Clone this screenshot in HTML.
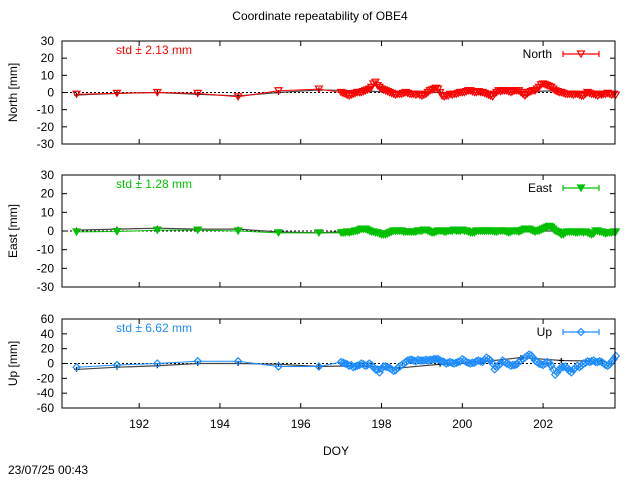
<!DOCTYPE html>
<html><head><meta charset="utf-8"><style>
body{margin:0;background:#fff;}
svg{font-family:"Liberation Sans",sans-serif;}
</style></head><body>
<svg id="chart" width="640" height="480" viewBox="0 0 640 480">
<text x="320" y="20" text-anchor="middle" font-size="12">Coordinate repeatability of OBE4</text>
<text x="336" y="455" text-anchor="middle" font-size="12">DOY</text>
<text x="8" y="474" font-size="12">23/07/25 00:43</text>
</svg>
<script>
const dailyDoy=[190.45,191.45,192.45,193.45,194.45,195.45,196.45];
const refDoy=[190.45,191.45,192.45,193.45,194.45,195.45,196.45,197.45,198.45,199.45,200.45,201.45,202.45,203.45];
const denseDoy=[197.0,197.05,197.1,197.15,197.2,197.25,197.3,197.35,197.4,197.45,197.5,197.55,197.6,197.65,197.7,197.75,197.8,197.85,197.9,197.95,198.0,198.05,198.1,198.15,198.2,198.25,198.3,198.35,198.4,198.45,198.5,198.55,198.6,198.65,198.7,198.75,198.8,198.85,198.9,198.95,199.0,199.05,199.1,199.15,199.2,199.25,199.3,199.35,199.4,199.45,199.5,199.55,199.6,199.65,199.7,199.75,199.8,199.85,199.9,199.95,200.0,200.05,200.1,200.15,200.2,200.25,200.3,200.35,200.4,200.45,200.5,200.55,200.6,200.65,200.7,200.75,200.8,200.85,200.9,200.95,201.0,201.05,201.1,201.15,201.2,201.25,201.3,201.35,201.4,201.45,201.5,201.55,201.6,201.65,201.7,201.75,201.8,201.85,201.9,201.95,202.0,202.05,202.1,202.15,202.2,202.25,202.3,202.35,202.4,202.45,202.5,202.55,202.6,202.65,202.7,202.75,202.8,202.85,202.9,202.95,203.0,203.05,203.1,203.15,203.2,203.25,203.3,203.35,203.4,203.45,203.5,203.55,203.6,203.65,203.7,203.75,203.8];
const northDense=[0,-0.5,-1,-1.5,-2,-1.5,-1,-0.5,0,0,0,0.5,1,1.5,2,3,5,6,4,3,2,1.5,1,0.5,0,-0.5,-1,-1.5,-1,-1,-1,-0.5,0,-0.5,-1,-1,-1,-1.5,-1,-1.5,-2,-1.5,-1,0,1,1.5,2,2.5,2,0,-2,-2.5,-2,-2,-1,-1.5,-1,-1,-0.5,0,0,0,0.5,1,1,0.5,0,0,0.5,0,0,-0.5,-1,-1.5,-2,-2.5,-1,0,1,0.5,1,1,1,0.5,0,0.5,1,1,1,0,-1,-2,-1,0,0.5,1,1,2,3,4.5,5,4.5,4,3.5,3,2,1,0.5,0,0,-0.5,-1,-1,-1,-1,-1.5,-1,-1,-1.5,-2,-2,-1,0,-0.5,-1,-1,-1.5,-2,-1,-1.5,-1,-1,-0.5,-1,-1.5,-1,-1.5];
const eastDense=[-1,-1,-1,-0.5,-1,-0.5,-0.5,0,0,0.5,1,1,1,0.5,0,-0.5,-0.5,-1,-1,-1.5,-2,-2,-2,-1.5,-1,-0.5,0,0,0,0,0,-0.5,-0.5,-0.5,-0.5,-0.5,-0.5,-0.5,0,0,0,0.5,0.5,0,-0.5,-1,-1,-0.5,0,0,0,-0.5,-0.5,0,0,0,0.5,0,0,0,0.5,0,0,-0.5,-1,-1,-1,0,0,0,0,0,0,0,0,0,-0.5,-0.5,0,0,0,0,-0.5,-1,-0.5,0,0,0,-0.5,0,0.5,1,1,1,0.5,0,-0.5,0,0,0.5,1,1.5,2,2.5,2,1,0,-0.5,-1,-2,-2,-1,-0.5,-0.5,-0.5,-0.5,-1,-1,-0.5,-0.5,-1,-0.5,-1,-1.5,-2,-1.5,0,0,-0.5,-0.5,-1,-1.5,-1,-1,-1,-0.5,-0.5];
const upDense=[2,1,0,-1,-3,-2,-5,-4,-3,-2,0,-1,-3,-2,0,-2,-5,-8,-8,-12,-7,-4,-4,-5,-6,-8,-10,-9,-6,-4,-2,0,2,4,5,5,4,3,5,4,4,4,5,4,5,5,6,6,6,4,3,2,0,1,2,1,0,1,2,3,6,4,2,1,0,1,1,3,4,3,2,5,8,6,4,0,-8,-5,-2,0,4,2,0,-1,-3,-2,-2,-1,2,4,6,8,10,12,11,8,4,2,0,-1,-2,0,2,1,-3,-8,-15,-12,-8,-5,-5,-4,-6,-10,-12,-8,-6,-3,-5,-3,0,1,3,2,3,4,2,2,3,2,0,-2,-3,-1,3,6,10,12,8];
const northDaily=[-1,-0.5,0,-0.5,-2.5,1,2];
const northRef=[-1.5,-0.5,0,-1,-2,0,1.5,1,0,0,0,0.5,1,-1];
const eastDaily=[-0.5,-0.3,0.5,0.5,0,-1,-1];
const eastRef=[0.5,1,1.5,1,1,-0.5,-1,0,0,0,0,0,0,0];
const upDaily=[-5,-2,0,3,3,-4,-4];
const upRef=[-8,-5,-3,0,0,-1,-4,-3,-6,-1,2,8,4,3];
const xTicks=[192,194,196,198,200,202];
const NS="http://www.w3.org/2000/svg";
const svg=document.getElementById('chart');
const X0=62,X1=615,D0=190.09,D1=203.78;
const xs=d=>X0+(d-D0)/(D1-D0)*(X1-X0);
function mk(tag,attrs,parent){const e=document.createElementNS(NS,tag);for(const k in attrs)e.setAttribute(k,attrs[k]);(parent||svg).appendChild(e);return e;}
const panels=[
 {key:'north',label:'North [mm]',top:41,bot:144,min:-30,max:30,ticks:[30,20,10,0,-10,-20,-30],color:'#ff0000',marker:'tri-open',std:'std ± 2.13 mm',daily:northDaily,ref:northRef,dense:northDense,leg:'North'},
 {key:'east',label:'East [mm]',top:175,bot:287,min:-30,max:30,ticks:[30,20,10,0,-10,-20,-30],color:'#00c000',marker:'tri-fill',std:'std ± 1.28 mm',daily:eastDaily,ref:eastRef,dense:eastDense,leg:'East'},
 {key:'up',label:'Up [mm]',top:319,bot:408,min:-60,max:60,ticks:[60,40,20,0,-20,-40,-60],color:'#1e8cff',marker:'diamond',std:'std ± 6.62 mm',daily:upDaily,ref:upRef,dense:upDense,leg:'Up'}
];
function marker(g,type,x,y,c){
 let e;
 if(type==='diamond'){e=mk('path',{d:`M${x} ${y-3.5}L${x+3.5} ${y}L${x} ${y+3.5}L${x-3.5} ${y}Z`,fill:'none',stroke:c,'stroke-width':1.2},g);}
 else{e=mk('path',{d:`M${x-3.5} ${y-3}L${x+3.5} ${y-3}L${x} ${y+3}Z`,fill:type==='tri-fill'?c:'none',stroke:c,'stroke-width':1.2},g);}
 
 
}
panels.forEach(p=>{
 const ys=v=>p.bot-(v-p.min)/(p.max-p.min)*(p.bot-p.top);
 const g=mk('g',{});
 
 
 p.ticks.forEach(t=>{
  const tl=mk('text',{x:54,y:ys(t)+4,'text-anchor':'end','font-size':12},g);tl.textContent=t;
  
  
  if(t!==p.max&&t!==p.min){mk('line',{x1:X0,x2:X0+5,y1:ys(t),y2:ys(t),stroke:'#000'},g);mk('line',{x1:X1-5,x2:X1,y1:ys(t),y2:ys(t),stroke:'#000'},g);}
 });
 xTicks.forEach(t=>{mk('line',{x1:xs(t),x2:xs(t),y1:p.bot,y2:p.bot-5,stroke:'#000'},g);mk('line',{x1:xs(t),x2:xs(t),y1:p.top,y2:p.top+5,stroke:'#000'},g);});
 const yl=mk('text',{x:0,y:0,'text-anchor':'middle','font-size':12,transform:`translate(17,${(p.top+p.bot)/2}) rotate(-90)`},g);yl.textContent=p.label;
 
 
 const zl=mk('line',{x1:X0,x2:X1,y1:ys(0),y2:ys(0),stroke:'#000','stroke-dasharray':'2,2'},g);
 
 
 const rp=mk('polyline',{points:p.ref.map((v,i)=>xs(refDoy[i])+','+ys(v)).join(' '),fill:'none',stroke:'#444','stroke-width':1.2},g);
 
 
 p.ref.forEach((v,i)=>{const x=xs(refDoy[i]),y=ys(v);mk('path',{d:`M${x-2.5} ${y}h5M${x} ${y-2.5}v5`,stroke:'#000','stroke-width':1.2},g);});
 const allD=dailyDoy.concat(denseDoy), allV=p.daily.concat(p.dense);
 const sp=mk('polyline',{points:allV.map((v,i)=>xs(allD[i])+','+ys(v)).join(' '),fill:'none',stroke:p.color,'stroke-width':1},g);
 
 
 allV.forEach((v,i)=>marker(g,p.marker,xs(allD[i]),ys(v),p.color));
 mk('rect',{x:X0,y:p.top,width:X1-X0,height:p.bot-p.top,fill:'none',stroke:'#000'},g);
 const st=mk('text',{x:116,y:p.top+13,'font-size':12,fill:p.color},g);st.textContent=p.std;
 
 
 const lt=mk('text',{x:552,y:p.top+17,'text-anchor':'end','font-size':12},g);lt.textContent=p.leg;
 
 
 const ly=p.top+13;
 mk('path',{d:`M563 ${ly}H599M563 ${ly-3}v6M599 ${ly-3}v6`,stroke:p.color,'stroke-width':1.2},g);
 marker(g,p.marker,581,ly,p.color);
 if(p.key==='up'){xTicks.forEach(t=>{const e=mk('text',{x:xs(t),y:p.bot+20,'text-anchor':'middle','font-size':12},g);e.textContent=t;
  
  });}
});
</script>
</body></html>
